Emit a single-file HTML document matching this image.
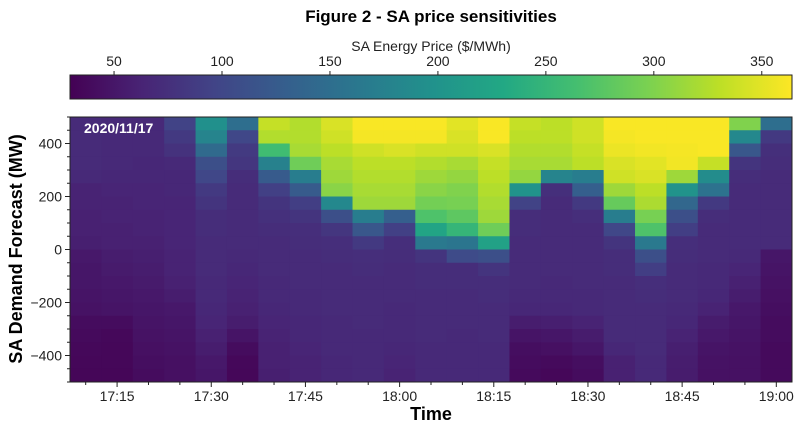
<!DOCTYPE html>
<html><head><meta charset="utf-8">
<style>
body{margin:0;background:#fff;}
svg text{font-family:"Liberation Sans",sans-serif;}
</style></head>
<body>
<svg id="chart" width="801" height="432" viewBox="0 0 801 432" xmlns="http://www.w3.org/2000/svg">
<text x="431" y="22" text-anchor="middle" font-size="17" font-weight="bold" fill="#000">Figure 2 - SA price sensitivities</text>
<text x="431" y="51" text-anchor="middle" font-size="14" fill="#222">SA Energy Price ($/MWh)</text>
<defs><linearGradient id="vg" x1="0" x2="1" y1="0" y2="0"></linearGradient></defs>
<g id="cbar"></g>
<g id="cells"></g>
<rect x="70" y="117" width="722" height="265" fill="none" stroke="#222" stroke-width="1"/>
<text x="84" y="133" font-size="14" font-weight="bold" fill="#fff">2020/11/17</text>
<g id="axes"></g>
<text x="431" y="420" text-anchor="middle" font-size="18" font-weight="bold" fill="#000">Time</text>
<text transform="translate(22,249) rotate(-90)" text-anchor="middle" font-size="18" font-weight="bold" fill="#000">SA Demand Forecast (MW)</text>
</svg>
<script>
// columns: 5-min intervals from 17:10 to 19:00 (minutes after 17:00)
const times = [10,15,20,25,30,35,40,45,50,55,60,65,70,75,80,85,90,95,100,105,110,115,120];
// demand rows (upper edge, MW), 50 MW each from 500 down to -450
const rowTops = [500,450,400,350,300,250,200,150,100,50,0,-50,-100,-150,-200,-250,-300,-350,-400,-450];
// price per column, top row to bottom row ($/MWh)
const prices = [
 [70,70,70,70,68,62,62,60,60,58,52,50,50,48,46,40,38,36,35,34],
 [68,68,68,68,66,64,62,62,60,60,56,54,52,50,48,40,36,35,35,34],
 [68,68,68,66,66,64,64,62,62,60,58,56,54,52,50,48,46,44,42,40],
 [95,85,78,68,66,66,64,64,64,64,62,62,60,56,52,50,48,46,44,44],
 [195,180,145,110,100,85,80,72,72,70,70,70,68,68,66,64,60,56,52,50],
 [150,100,86,82,72,70,70,70,70,70,68,66,64,62,60,56,48,40,36,35],
 [335,325,260,175,125,92,80,76,72,70,70,70,68,68,66,64,62,60,60,58],
 [325,325,320,290,170,125,90,80,74,72,70,70,70,68,68,66,66,64,62,62],
 [345,340,330,320,315,305,185,110,82,74,72,70,70,70,70,68,68,68,66,66],
 [362,360,340,330,325,320,315,170,120,85,74,72,70,70,70,70,68,68,68,68],
 [362,360,345,330,325,320,315,130,92,74,72,70,70,70,68,68,68,66,64,62],
 [362,360,340,325,315,305,293,270,225,165,80,72,72,70,70,70,70,68,68,68],
 [350,345,340,320,310,300,295,280,250,160,105,72,72,70,70,70,68,68,68,68],
 [362,362,345,335,330,325,320,315,290,220,110,80,72,72,70,70,70,68,68,68],
 [335,330,325,320,310,200,95,72,72,70,70,70,70,68,66,56,48,42,40,38],
 [330,330,325,320,180,75,70,70,70,70,70,70,68,68,66,58,50,44,38,35],
 [340,340,335,330,170,130,85,74,70,70,70,70,70,68,68,62,55,50,42,40],
 [362,360,355,345,340,315,285,170,100,80,72,72,70,70,70,70,70,66,60,60],
 [362,362,358,350,345,330,322,295,270,165,110,90,74,72,70,70,70,70,68,68],
 [362,362,360,358,315,200,140,110,90,74,72,70,70,70,68,66,62,58,56,55],
 [362,362,362,335,190,155,85,72,70,70,70,68,68,66,62,55,52,48,46,45],
 [300,185,120,80,72,70,70,70,70,70,68,64,60,56,52,50,48,46,45,45],
 [150,85,75,72,70,70,70,70,70,70,50,48,46,44,42,40,40,38,38,38]
];
const cbTicks = [50,100,150,200,250,300,350];
const xTicks = [15,30,45,60,75,90,105,120];
const xTickLabels = ["17:15","17:30","17:45","18:00","18:15","18:30","18:45","19:00"];
const yTicks = [400,200,0,-200,-400];

const VMIN=29.6, VMAX=364;
const PX0=70, PX1=792, PY0=117, PY1=382;
const T0=7.5, T1=122.5, D0=-500, D1=500;
const xs = t => PX0 + (t-T0)/(T1-T0)*(PX1-PX0);
const ys = d => PY1 - (d-D0)/(D1-D0)*(PY1-PY0);
const cx = v => PX0 + (v-VMIN)/(VMAX-VMIN)*(PX1-PX0);

const vir = [[68,1,84],[72,36,117],[65,68,135],[53,95,141],[42,120,142],[33,145,140],[34,168,132],[68,190,112],[122,209,81],[189,223,38],[253,231,37]];
function color(v){
  let f=(v-VMIN)/(VMAX-VMIN); f=Math.max(0,Math.min(1,f))*(vir.length-1);
  const i=Math.min(Math.floor(f),vir.length-2), r=f-i;
  const c=vir[i].map((a,k)=>Math.round(a+(vir[i+1][k]-a)*r));
  return `rgb(${c[0]},${c[1]},${c[2]})`;
}
const NS="http://www.w3.org/2000/svg";
function mk(tag,attrs,parent){const e=document.createElementNS(NS,tag);for(const k in attrs)e.setAttribute(k,attrs[k]);parent.appendChild(e);return e;}

const g=document.getElementById('vg');
for(let i=0;i<vir.length;i++){
  mk('stop',{offset:(i/(vir.length-1)),'stop-color':`rgb(${vir[i].join(',')})`},g);
}
const cb=document.getElementById('cbar');
const cbr=mk('rect',{x:70,y:75,width:722,height:24,fill:'url(#vg)',stroke:'#222','stroke-width':1},cb);


cbTicks.forEach(v=>{
  const x=cx(v);
  mk('line',{x1:x,x2:x,y1:75,y2:71,stroke:'#222'},cb);
  const t=mk('text',{x:x,y:66,'text-anchor':'middle','font-size':14,fill:'#222'},cb);
  t.textContent=v;
  
  
});

const cells=document.getElementById('cells');
const half=2.5;
times.forEach((tm,ci)=>{
  rowTops.forEach((top,ri)=>{
    const x0=xs(tm-half), x1=xs(tm+half), y0=ys(top), y1=ys(top-50);
    const r=mk('rect',{x:x0,y:y0,width:x1-x0+0.5,height:y1-y0+0.5,fill:color(prices[ci][ri])},cells);
    
    
  });
});

const ax=document.getElementById('axes');
for(let m=10;m<=120;m+=5){
  const x=xs(m), major=(m%15===0);
  mk('line',{x1:x,x2:x,y1:382,y2:382+(major?5:3),stroke:'#222'},ax);
}
xTicks.forEach((m,i)=>{
  const t=mk('text',{x:xs(m),y:401,'text-anchor':'middle','font-size':14,fill:'#222'},ax);
  t.textContent=xTickLabels[i];
  
  
});
for(let d=-500;d<=500;d+=50){
  const y=ys(d), major=(d%200===0);
  mk('line',{x1:70,x2:70-(major?5:3),y1:y,y2:y,stroke:'#222'},ax);
}
yTicks.forEach(d=>{
  const t=mk('text',{x:62,y:ys(d)+5,'text-anchor':'end','font-size':14,fill:'#222'},ax);
  t.textContent=d<0?'\u2212'+Math.abs(d):d;
  
  
});
</script>
</body></html>
